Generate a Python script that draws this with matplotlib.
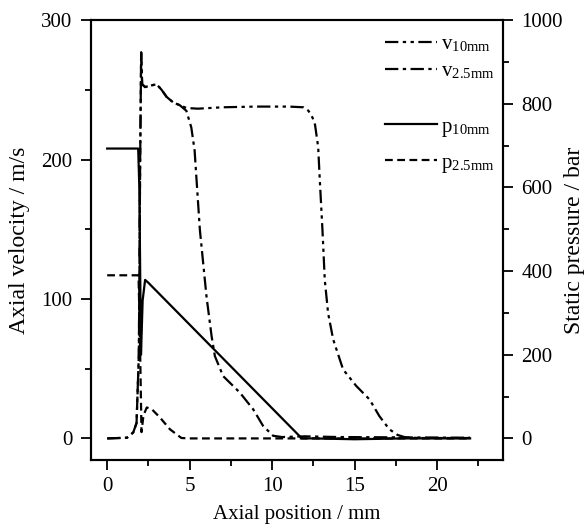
import numpy as np
import matplotlib
matplotlib.use("Agg")
from matplotlib import pyplot as plt
from matplotlib.ticker import MultipleLocator

plt.rcParams["font.family"] = ["Liberation Serif", "DejaVu Serif"]
plt.rcParams["mathtext.fontset"] = "stix"

# Axial velocity, nozzle length 10 mm (m/s)
x_v10 = [0.0, 1.2, 1.58, 1.78, 1.92, 2.0, 2.06, 2.12, 2.3, 2.6, 3.0, 3.3, 3.6, 4.0, 4.4, 4.8,
         5.5, 7.0, 9.0, 11.0, 11.9, 12.2, 12.45, 12.6, 12.79, 12.89, 13.05, 13.19, 13.39,
         13.7, 14.3, 15.1, 15.9, 16.5, 17.1, 17.6, 18.1, 19.0, 22.0]
v10 = [0.0, 0.5, 4.3, 11.0, 60.0, 200.0, 277.0, 254.0, 252.0, 253.0, 254.0, 250.0, 245.0,
       241.0, 239.0, 237.0, 236.5, 237.5, 238.0, 238.0, 237.5, 235.0, 230.0, 225.0, 209.0,
       185.0, 149.5, 113.8, 90.0, 71.0, 49.5, 37.6, 28.0, 16.0, 6.6, 2.5, 0.7, 0.3, 0.3]

# Axial velocity, nozzle length 2.5 mm (m/s)
x_v25 = [0.0, 1.2, 1.58, 1.78, 1.92, 2.0, 2.06, 2.12, 2.3, 2.6, 3.0, 3.3, 3.6, 4.0, 4.4, 4.8,
         5.1, 5.3, 5.42, 5.62, 6.02, 6.33, 6.53, 7.03, 8.04, 8.85, 9.45, 10.06, 10.6,
         12.0, 14.0, 22.0]
v25 = [0.0, 0.5, 4.3, 11.0, 60.0, 200.0, 277.0, 254.0, 252.0, 253.0, 254.0, 250.0, 245.0,
       241.0, 239.0, 235.0, 223.0, 206.6, 185.0, 149.5, 101.9, 73.3, 59.0, 44.7, 32.9, 20.9,
       9.0, 1.9, 1.0, 1.5, 1.0, 0.5]

# Static pressure, nozzle length 10 mm (bar)
x_p10 = [0.0, 1.88, 1.95, 2.05, 2.15, 2.3, 2.5, 11.8, 12.5, 15.0, 18.0, 22.0]
p10 = [693.0, 693.0, 600.0, 200.0, 330.0, 379.0, 372.0, 0.0, 0.0, -2.0, 0.0, 0.0]

# Static pressure, nozzle length 2.5 mm (bar)
x_p25 = [0.0, 1.9, 1.98, 2.08, 2.2, 2.4, 2.7, 3.2, 3.8, 4.5, 5.0, 22.0]
p25 = [390.0, 390.0, 250.0, 15.0, 55.0, 74.0, 70.0, 50.0, 22.0, 1.0, 0.0, 0.0]

fig = plt.figure(figsize=(5.85, 5.3), dpi=100)
ax1 = fig.add_axes([0.155, 0.132, 0.705, 0.830])
ax2 = ax1.twinx()

lw = 1.6
l1, = ax1.plot(x_v10, v10, color="black", lw=lw, dashes=(6, 2, 1.5, 2, 1.5, 2),
               label=r"v$_{\mathregular{10mm}}$")
l2, = ax1.plot(x_v25, v25, color="black", lw=lw, dashes=(6, 2, 1.5, 2),
               label=r"v$_{\mathregular{2.5mm}}$")
l3, = ax2.plot(x_p10, p10, color="black", lw=lw, ls="-",
               label=r"p$_{\mathregular{10mm}}$")
l4, = ax2.plot(x_p25, p25, color="black", lw=lw, dashes=(3.5, 2),
               label=r"p$_{\mathregular{2.5mm}}$")

ax1.set_xlim(-1, 24)
ax1.set_ylim(-15.5, 300)
ax2.set_ylim(-51.7, 1000)

ax1.xaxis.set_major_locator(MultipleLocator(5))
ax1.xaxis.set_minor_locator(MultipleLocator(2.5))
ax1.yaxis.set_major_locator(MultipleLocator(100))
ax1.yaxis.set_minor_locator(MultipleLocator(50))
ax2.yaxis.set_major_locator(MultipleLocator(200))
ax2.yaxis.set_minor_locator(MultipleLocator(100))

for ax in (ax1, ax2):
    ax.tick_params(which="major", direction="out", length=7.5, width=1.3, labelsize=15, pad=5.5)
    ax.tick_params(which="minor", direction="out", length=4.2, width=1.3)
    for s in ax.spines.values():
        s.set_linewidth(1.5)
ax1.tick_params(axis="x", which="both", top=False, pad=5)

ax1.set_xlabel("Axial position / mm", fontsize=15, labelpad=6)
ax1.set_ylabel("Axial velocity / m/s", fontsize=17, labelpad=8)
ax2.set_ylabel("Static pressure / bar", fontsize=17, labelpad=1)

ax1.legend(handles=[l1, l2], loc="upper right", bbox_to_anchor=(1.015, 1.0),
           frameon=False, fontsize=15, handlelength=2.5, handletextpad=0.2,
           labelspacing=0.35, borderaxespad=0.3)
ax2.legend(handles=[l3, l4], loc="upper right", bbox_to_anchor=(1.015, 0.813),
           frameon=False, fontsize=15, handlelength=2.5, handletextpad=0.2,
           labelspacing=0.7, borderaxespad=0.3)

fig.savefig("out.png", dpi=100)
